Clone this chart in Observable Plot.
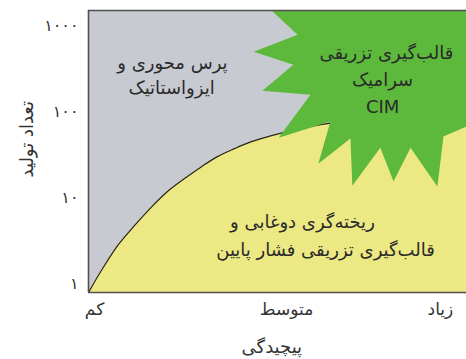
<!DOCTYPE html>
<html><head><meta charset="utf-8">
<script src="https://cdn.jsdelivr.net/npm/d3@7"></script>
<script src="https://cdn.jsdelivr.net/npm/@observablehq/plot@0.6"></script>
<style>body{margin:0;background:#fff;}</style>
</head><body><div id="chart"></div>
<script>
// x axis: complexity (0–100 scale), y axis: production volume (log)
const complexityTicks = [1.6, 52.4, 93.1];
const complexityLabels = ["کم", "متوسط", "زیاد"];
const volumeTicks = [1, 10, 100, 1000];
const volumeLabels = ["۱", "۱۰", "۱۰۰", "۱۰۰۰"];

// boundary between pressing region (above) and slip casting / LPIM (below)
const boundaryX = [0, 3.4, 7.7, 12.2, 16.7, 20.9, 25.4, 29.9, 34.1, 38.6, 43.1, 48.4, 56.1, 63.2, 72, 82.5, 100];
const boundaryY = [0.8, 1.44, 2.8, 4.8, 7.9, 11.9, 16.8, 23.1, 30.2, 37.4, 45.1, 53, 63.8, 73, 79, 81, 71];

// CIM starburst region outline
const cimX = [44.2, 55.3, 43.7, 54.2, 46.0, 58.7, 50.3, 64.0, 60.8, 69.3, 69.8, 77.2, 80.7, 85.2, 92.3, 93.9, 101.1, 114, 114, 44.2];
const cimY = [2228, 787, 499, 353, 176, 158, 50, 77, 25, 49, 13.9, 38.4, 15.5, 38.4, 13.6, 51.6, 71, 135, 3000, 3000];

// region labels
const labelText = ["پرس محوری و", "ایزواستاتیک", "قالب\u200cگیری تزریقی", "سرامیک", "CIM", "ریخته\u200cگری دوغابی و", "قالب\u200cگیری تزریقی فشار پایین"];
const labelX = [22.2, 22.0, 78.8, 77.8, 77.8, 56.6, 62.7];
const labelY = [362, 186, 473, 230, 112, 5.18, 2.45];

const yMin = 0.8, yMax = 1500;
const boundary = boundaryX.map((x, i) => ({x, y: boundaryY[i]}));
const cim = cimX.map((x, i) => ({x, y: cimY[i]}));
const labels = labelText.map((t, i) => ({t, x: labelX[i], y: labelY[i]}));

const chart = Plot.plot({
  width: 466, height: 359,
  marginLeft: 88, marginRight: 0, marginTop: 10, marginBottom: 67,
  style: {fontFamily: "DejaVu Sans", fontSize: "14px", color: "#333", background: "white"},
  x: {domain: [0, 100]},
  y: {type: "log", domain: [yMin, yMax]},
  marks: [
    Plot.frame({fill: "#c8cad2", stroke: null}),
    Plot.areaY(boundary, {x: "x", y1: () => yMin, y2: "y", fill: "#ece883", curve: "catmull-rom", clip: true}),
    Plot.line(boundary, {x: "x", y: "y", stroke: "#222", strokeWidth: 1.2, curve: "catmull-rom", clip: true}),
    Plot.line(cim, {x: "x", y: "y", fill: "#5db93c", stroke: null, clip: true}),
    Plot.ruleY([yMin, yMax], {stroke: "#505050", strokeWidth: 1.6}),
    Plot.ruleX([0], {stroke: "#505050", strokeWidth: 1.6}),
    Plot.text(labels, {x: "x", y: "y", text: "t", fontSize: 18, fill: "#2a2a2a"}),
    Plot.axisY(volumeTicks, {tickFormat: d => volumeLabels[volumeTicks.indexOf(d)], tickSize: 0, tickPadding: 10, fontSize: 16, label: null}),
    Plot.axisX(complexityTicks, {tickFormat: d => complexityLabels[complexityTicks.indexOf(d)], tickSize: 0, tickPadding: 10, fontSize: 17, label: null}),
    Plot.text(["پیچیدگی"], {frameAnchor: "bottom", dy: 60, fontSize: 18, fill: "#333", x: () => 48.5}),
    Plot.text(["تعداد تولید"], {frameAnchor: "left", rotate: -90, dx: -61, dy: 26, fontSize: 18, fill: "#333"})
  ]
});
document.getElementById("chart").appendChild(chart);
</script>
</body></html>
